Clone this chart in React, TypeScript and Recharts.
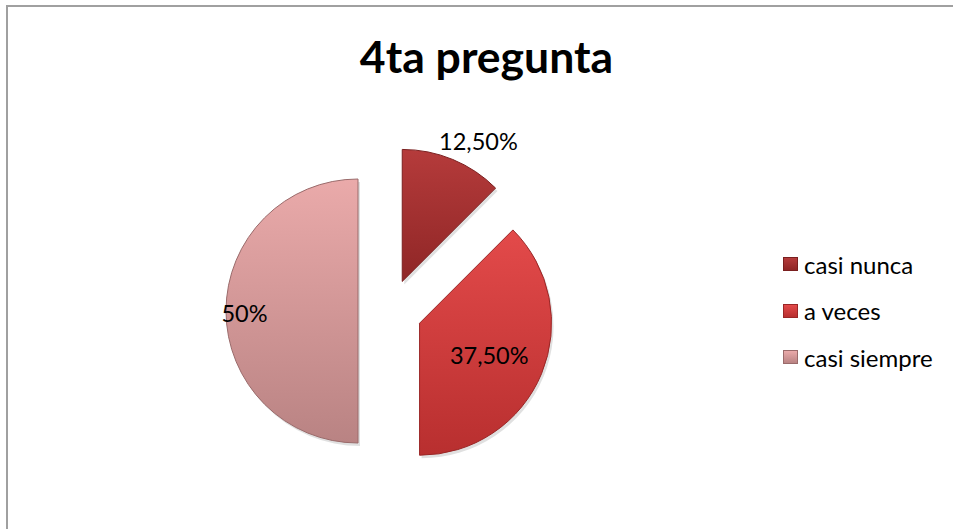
import React from "react";
import { PieChart, Pie, Sector, Legend, Cell } from "recharts";

const categories = ["casi nunca", "a veces", "casi siempre"];
const values = [12.5, 37.5, 50];
const valueLabels = ["12,50%", "37,50%", "50%"];
const title = "4ta pregunta";

const colors = [
  { top: "#b53b3b", bottom: "#8f2626", edge: "#7a1f1f" },
  { top: "#e34a4a", bottom: "#b82f2f", edge: "#9a2626" },
  { top: "#eaaaaa", bottom: "#b98383", edge: "#9a6b6b" },
];

const labelFactors = [1.21, 0.58, 0.86];
const labelAngleShift = [-6, -2, 1];
const EXPLODE = 32;
const RAD = Math.PI / 180;
const FONT = "Lato, 'Open Sans', sans-serif";

const data = categories.map((name, i) => ({ name, value: values[i], label: valueLabels[i] }));

const ExplodedSector = (props: any) => {
  const { cx, cy, midAngle, index } = props;
  const dx = Math.cos(midAngle * RAD) * EXPLODE;
  const dy = -Math.sin(midAngle * RAD) * EXPLODE;
  const id = `grad-${index}`;
  const c = colors[index];
  return (
    <g>
      <defs>
        <linearGradient id={id} x1="0" y1="0" x2="0" y2="1">
          <stop offset="0%" stopColor={c.top} />
          <stop offset="100%" stopColor={c.bottom} />
        </linearGradient>
      </defs>
      <Sector
        {...props}
        cx={cx + dx + 2}
        cy={cy + dy + 3}
        fill="rgba(0,0,0,0.12)"
        stroke="none"
      />
      <Sector {...props} cx={cx + dx} cy={cy + dy} fill={`url(#${id})`} stroke={c.edge} strokeWidth={1} />
    </g>
  );
};

const renderLabel = (props: any) => {
  const { cx, cy, midAngle, outerRadius, index } = props;
  const dx = Math.cos(midAngle * RAD) * EXPLODE;
  const dy = -Math.sin(midAngle * RAD) * EXPLODE;
  const r = outerRadius * labelFactors[index];
  const a = (midAngle + labelAngleShift[index]) * RAD;
  const x = cx + dx + Math.cos(a) * r;
  const y = cy + dy - Math.sin(a) * r;
  return (
    <text
      x={x}
      y={y}
      textAnchor="middle"
      dominantBaseline="central"
      fill="#000"
      fontFamily={FONT}
      fontSize={23.5}
    >
      {data[index].label}
    </text>
  );
};

const LegendContent = () => (
  <div style={{ fontFamily: FONT, fontSize: 24, color: "#000" }}>
    {data.map((d, i) => (
      <div key={d.name} style={{ display: "flex", alignItems: "center", height: 46.5 }}>
        <span
          style={{
            display: "inline-block",
            width: 15,
            height: 14,
            marginRight: 6,
            background: `linear-gradient(${colors[i].top}, ${colors[i].bottom})`,
            border: `1px solid ${colors[i].edge}`,
            boxSizing: "border-box",
          }}
        />
        <span>{d.name}</span>
      </div>
    ))}
  </div>
);

export default function App() {
  return (
    <div style={{ position: "absolute", left: 0, top: 0, width: 953, height: 529, background: "#fff", overflow: "hidden" }}>
      <div
        style={{
          position: "absolute",
          left: 6,
          top: 5,
          width: 980,
          height: 560,
          border: "2px solid #a0a0a0",
          boxSizing: "border-box",
        }}
      />
      <div
        style={{
          position: "absolute",
          left: 0,
          width: 973,
          top: 29,
          textAlign: "center",
          fontFamily: FONT,
          fontWeight: 700,
          fontSize: 44.5,
          lineHeight: "54px",
          color: "#000",
        }}
      >
        {title}
      </div>
      <div style={{ position: "absolute", left: 0, top: 0 }}>
        <PieChart width={953} height={529} margin={{ top: 0, right: 0, bottom: 0, left: 0 }}>
          <Pie
            data={data}
            dataKey="value"
            nameKey="name"
            cx={390}
            cy={311}
            outerRadius={132}
            startAngle={90}
            endAngle={-270}
            isAnimationActive={false}
            shape={ExplodedSector}
            label={renderLabel}
            labelLine={false}
            stroke="none"
          >
            {data.map((d, i) => (
              <Cell key={d.name} fill={colors[i].top} />
            ))}
          </Pie>
          <Legend
            content={<LegendContent />}
            layout="vertical"
            align="right"
            verticalAlign="top"
            wrapperStyle={{ position: "absolute", left: 783, top: 241, width: 170 }}
          />
        </PieChart>
      </div>
    </div>
  );
}
